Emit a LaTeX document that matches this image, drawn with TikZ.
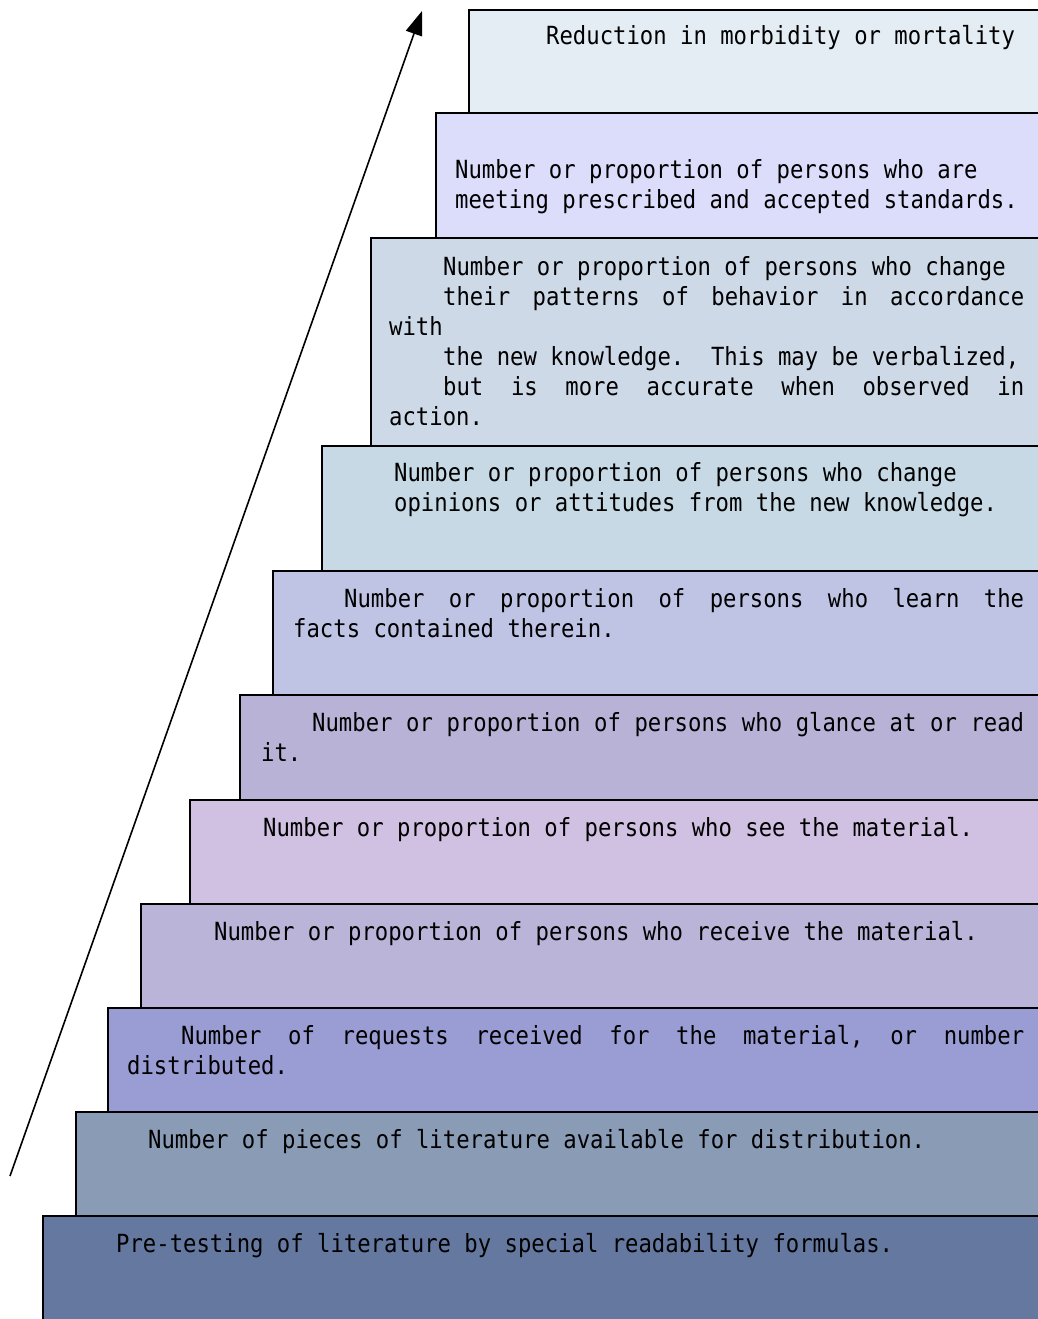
\documentclass[tikz,border=0pt]{standalone}
\usepackage{fontspec}
\newfontfamily\mono{DejaVu Sans Mono}[FakeStretch=0.89]
\usetikzlibrary{arrows.meta}
\definecolor{cA}{HTML}{E4ECF4}
\definecolor{cB}{HTML}{DCDCFB}
\definecolor{cC}{HTML}{CED9E8}
\definecolor{cD}{HTML}{C6D9E4}
\definecolor{cE}{HTML}{BFC4E4}
\definecolor{cF}{HTML}{B8B2D7}
\definecolor{cG}{HTML}{D0C0E1}
\definecolor{cH}{HTML}{B9B4D8}
\definecolor{cI}{HTML}{9A9CD4}
\definecolor{cJ}{HTML}{8A9BB6}
\definecolor{cK}{HTML}{6578A0}
\newcommand{\jus}[2]{\makebox[#1][s]{\spaceskip=\fontdimen2\font plus 1fil\relax #2}}
\tikzset{
  stepbox/.style={draw=black, line width=1.8pt},
  txt/.style={anchor=base west, inner sep=0pt, font=\mono\fontsize{25}{30}\selectfont\frenchspacing},
}
\begin{document}
\begin{tikzpicture}[x=1pt,y=-1pt]
\useasboundingbox (0,0) rectangle (1038,1319);
\clip (0,0) rectangle (1038,1319);
% steps
\path[stepbox, fill=cA] (469,10) rectangle (1050,113);
\path[stepbox, fill=cB] (436,113) rectangle (1050,238);
\path[stepbox, fill=cC] (371,238) rectangle (1050,446);
\path[stepbox, fill=cD] (322,446) rectangle (1050,571);
\path[stepbox, fill=cE] (273,571) rectangle (1050,695);
\path[stepbox, fill=cF] (240,695) rectangle (1050,800);
\path[stepbox, fill=cG] (190,800) rectangle (1050,904);
\path[stepbox, fill=cH] (141,904) rectangle (1050,1008);
\path[stepbox, fill=cI] (108,1008) rectangle (1050,1112);
\path[stepbox, fill=cJ] (76,1112) rectangle (1050,1216);
\path[stepbox, fill=cK] (43,1216) rectangle (1050,1330);
% arrow
\coordinate (arrowtail) at (10,1176);
\coordinate (arrowtip) at (422,11);
\draw[line width=1.6pt, -{Triangle[length=24pt,width=17pt]}] (arrowtail) -- (arrowtip);
% texts
\node[txt] (t1) at (546,45) {Reduction in morbidity or mortality};
\node[txt] (t2a) at (455,178) {Number or proportion of persons who are};
\node[txt] (t2b) at (455,208) {meeting prescribed and accepted standards.};
\node[txt] (t3a) at (443,275) {Number or proportion of persons who change};
\node[txt] (t3b) at (443,305) {\jus{581pt}{their patterns of behavior in accordance}};
\node[txt] (t3c) at (389,335) {with};
\node[txt] (t3d) at (443,365) {the new knowledge.\ \ This may be verbalized,};
\node[txt] (t3e) at (443,395) {\jus{581pt}{but is more accurate when observed in}};
\node[txt] (t3f) at (389,425) {action.};
\node[txt] (t4a) at (394,481) {Number or proportion of persons who change};
\node[txt] (t4b) at (394,511) {opinions or attitudes from the new knowledge.};
\node[txt] (t5a) at (344,607) {\jus{680pt}{Number or proportion of persons who learn the}};
\node[txt] (t5b) at (293,637) {facts contained therein.};
\node[txt] (t6a) at (312,731) {\jus{712pt}{Number or proportion of persons who glance at or read}};
\node[txt] (t6b) at (261,761) {it.};
\node[txt] (t7) at (263,836) {Number or proportion of persons who see the material.};
\node[txt] (t8) at (214,940) {Number or proportion of persons who receive the material.};
\node[txt] (t9a) at (181,1044) {\jus{843pt}{Number of requests received for the material, or number}};
\node[txt] (t9b) at (127,1074) {distributed.};
\node[txt] (t10) at (148,1148) {Number of pieces of literature available for distribution.};
\node[txt] (t11) at (116,1252) {Pre-testing of literature by special readability formulas.};
\end{tikzpicture}
\end{document}
